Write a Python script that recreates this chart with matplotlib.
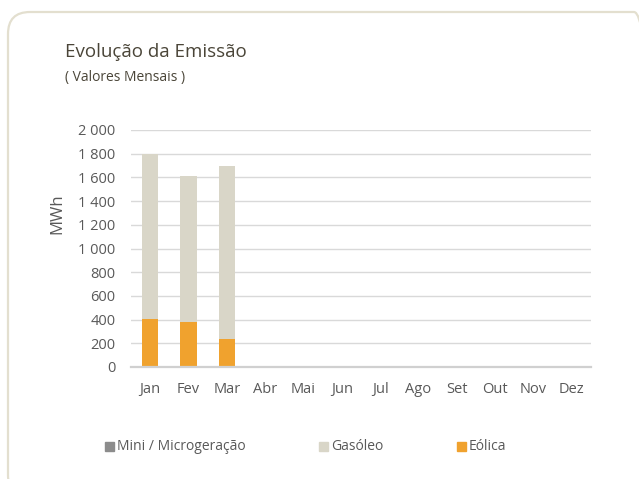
import matplotlib
matplotlib.use('Agg')
import matplotlib.pyplot as plt
from matplotlib.patches import FancyBboxPatch, Rectangle
from matplotlib.transforms import IdentityTransform
import numpy as np

plt.rcParams['font.family'] = ['Open Sans', 'DejaVu Sans']

# the data
months = ['Jan', 'Fev', 'Mar', 'Abr', 'Mai', 'Jun', 'Jul', 'Ago', 'Set', 'Out', 'Nov', 'Dez']
eolica = [405, 382, 236, 0, 0, 0, 0, 0, 0, 0, 0, 0]
gasoleo = [1395, 1230, 1460, 0, 0, 0, 0, 0, 0, 0, 0, 0]
mini_micro = [0, 0, 0, 0, 0, 0, 0, 0, 0, 0, 0, 0]
series_names = ['Mini / Microgeração', 'Gasóleo', 'Eólica']
yticks = [0, 200, 400, 600, 800, 1000, 1200, 1400, 1600, 1800, 2000]

c_eol = '#F0A22E'
c_gas = '#D9D6C8'
c_mini = '#8C8C8C'
txt = '#595959'

W, H = 639, 479
fig = plt.figure(figsize=(W / 100, H / 100), dpi=100)

# rounded frame around the chart, in display pixels (bottom-left origin)
box = FancyBboxPatch((8, -18), 648, H - 12 + 18,
                     boxstyle='round,pad=0,rounding_size=22',
                     transform=IdentityTransform(), fill=False,
                     edgecolor='#E3DFCF', linewidth=1.6)
fig.add_artist(box)

ax = fig.add_axes([131 / W, 1 - 367 / H, 460 / W, 237 / H])
x = np.arange(len(months))
bw = 0.42
ax.bar(x, eolica, bw, color=c_eol, zorder=3)
ax.bar(x, gasoleo, bw, bottom=eolica, color=c_gas, zorder=3)
ax.bar(x, mini_micro, bw, bottom=np.add(eolica, gasoleo), color=c_mini, zorder=3)

ax.set_xlim(-0.5, len(months) - 0.5)
ax.set_ylim(0, 2000)
ax.set_yticks(yticks)
ax.set_yticklabels([f'{v:,}'.replace(',', ' ') for v in yticks])
ax.set_xticks(x)
ax.set_xticklabels(months)
ax.tick_params(axis='both', length=0, labelsize=10.5, labelcolor=txt)
ax.tick_params(axis='y', pad=11)
ax.tick_params(axis='x', pad=11)
ax.grid(axis='y', color='#D9D9D9', linewidth=1.0, zorder=0)
for s in ['top', 'right', 'left']:
    ax.spines[s].set_visible(False)
ax.spines['bottom'].set_color('#D0D0D0')
ax.spines['bottom'].set_linewidth(1.6)
ax.spines['bottom'].set_zorder(4)

fig.text(57 / W, 1 - 214 / H, 'MWh', rotation=90, ha='center', va='center',
         fontsize=12, color=txt)

fig.text(65 / W, 1 - 52 / H, 'Evolução da Emissão', ha='left', va='center',
         fontsize=13.5, color='#4A4538')
fig.text(65 / W, 1 - 78 / H, '( Valores Mensais )', ha='left', va='center',
         fontsize=10, color='#4A4538')

# legend drawn by hand to keep Excel spacing
leg_x = [105, 319, 457]
for name, col, lx in zip(series_names, [c_mini, c_gas, c_eol], leg_x):
    fig.patches.append(Rectangle((lx / W, 1 - 451 / H), 8.5 / W, 9 / H,
                                 transform=fig.transFigure, color=col))
    fig.text((lx + 12) / W, 1 - 446 / H, name, ha='left', va='center',
             fontsize=10, color=txt)

plt.savefig('out.png', dpi=100)
